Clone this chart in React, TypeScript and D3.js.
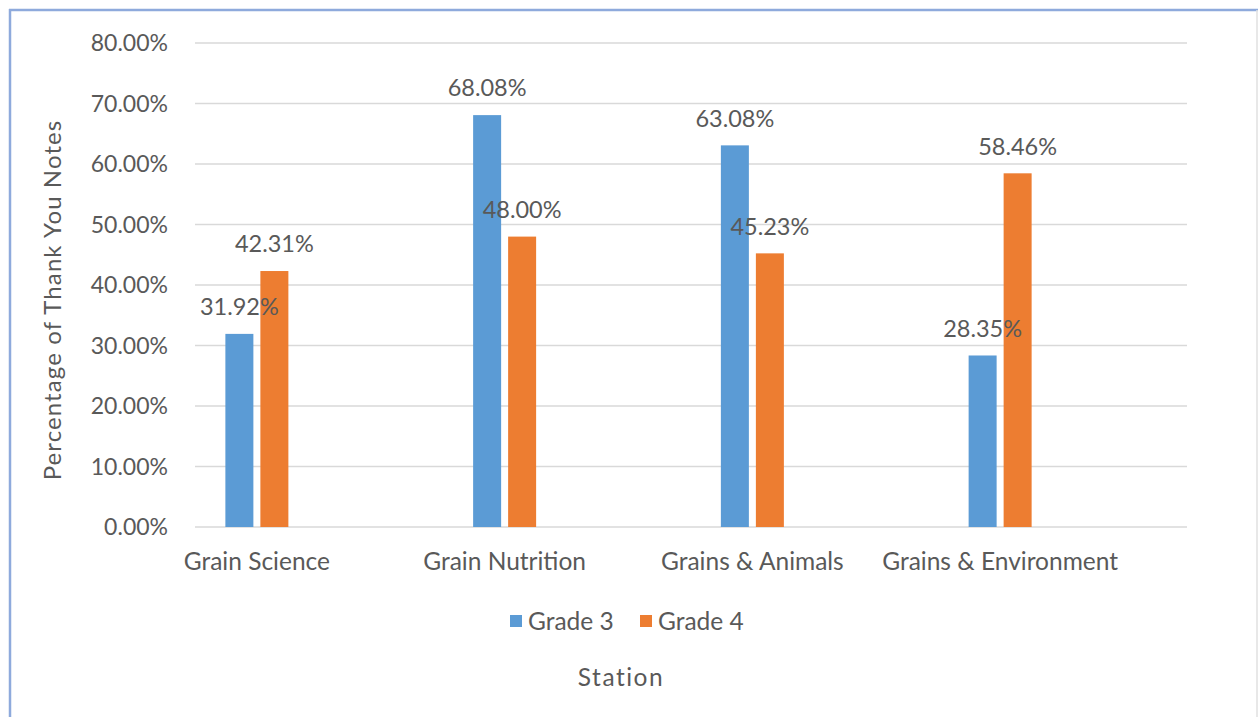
import React from "react";
import * as d3 from "d3";

const categories = ["Grain Science", "Grain Nutrition", "Grains & Animals", "Grains & Environment"];
const seriesNames = ["Grade 3", "Grade 4"];
const grade3 = [0.3192, 0.6808, 0.6308, 0.2835];
const grade4 = [0.4231, 0.48, 0.4523, 0.5846];
const yTicks = [0, 0.1, 0.2, 0.3, 0.4, 0.5, 0.6, 0.7, 0.8];
const colors = ["#5b9bd5", "#ed7d31"];

const W = 1258;
const H = 717;
const FONT = "Lato, 'Open Sans', sans-serif";
const TXT = "#595959";

export default function App() {
  const y = d3.scaleLinear().domain([0, 0.8]).range([527, 43]);
  const x = d3.scaleBand<string>().domain(categories).range([133, 1124]).padding(0);
  const inner = d3.scaleBand<string>().domain(seriesNames).range([-31.5, 31.5]).paddingInner(0.2).paddingOuter(0);
  const fmt = d3.format(".2%");
  const series = [grade3, grade4];
  const gridX0 = 195;
  const gridX1 = 1187;

  return (
    <svg width={W} height={H} style={{ position: "absolute", left: 0, top: 0, background: "#fff" }}>
      <rect x={0} y={0} width={W} height={H} fill="#fff" />
      <line x1={10} y1={9} x2={10} y2={H} stroke="#8eaadc" strokeWidth={2.5} />
      <line x1={9} y1={10} x2={W} y2={10} stroke="#8eaadc" strokeWidth={2.5} />
      <line x1={1257} y1={10} x2={1257} y2={H} stroke="#e0e0e0" strokeWidth={1.5} />

      {yTicks.map((t) => (
        <g key={t}>
          <line x1={gridX0} x2={gridX1} y1={y(t)} y2={y(t)} stroke="#d9d9d9" strokeWidth={1.5} />
          <text x={168} y={y(t)} dy="0.35em" textAnchor="end" fontFamily={FONT} fontSize={23} fill={TXT}>
            {fmt(t)}
          </text>
        </g>
      ))}

      {categories.map((c, i) => {
        const cx = (x(c) as number) + x.bandwidth() / 2;
        return (
          <g key={c}>
            {series.map((s, j) => {
              const bx = cx + (inner(seriesNames[j]) as number);
              const bw = inner.bandwidth();
              return (
                <g key={j}>
                  <rect x={bx} y={y(s[i])} width={bw} height={y(0) - y(s[i])} fill={colors[j]} />
                </g>
              );
            })}
            <text x={cx} y={561} dy="0.35em" textAnchor="middle" fontFamily={FONT} fontSize={24.5} fill={TXT}>
              {c}
            </text>
          </g>
        );
      })}

      {categories.map((c, i) => {
        const cx = (x(c) as number) + x.bandwidth() / 2;
        return series.map((s, j) => {
          const bx = cx + (inner(seriesNames[j]) as number) + inner.bandwidth() / 2;
          return (
            <text key={c + j} x={bx} y={y(s[i]) - 27} dy="0.35em" textAnchor="middle" fontFamily={FONT} fontSize={23.5} fill={TXT}>
              {fmt(s[i])}
            </text>
          );
        });
      })}

      <text
        transform={`translate(53,${(y(0) + y(0.8)) / 2 + 15}) rotate(-90)`}
        textAnchor="middle"
        dy="0.35em"
        fontFamily={FONT}
        fontSize={24}
        letterSpacing={1.1}
        fill={TXT}
      >
        Percentage of Thank You Notes
      </text>

      {seriesNames.map((n, j) => (
        <g key={n} transform={`translate(${510 + j * 130},621)`}>
          <rect x={0} y={-6} width={12} height={12} fill={colors[j]} />
          <text x={18} y={0} dy="0.35em" fontFamily={FONT} fontSize={24.5} fill={TXT}>
            {n}
          </text>
        </g>
      ))}

      <text x={621} y={677} dy="0.35em" textAnchor="middle" fontFamily={FONT} fontSize={24.5} letterSpacing={1.5} fill={TXT}>
        Station
      </text>
    </svg>
  );
}
